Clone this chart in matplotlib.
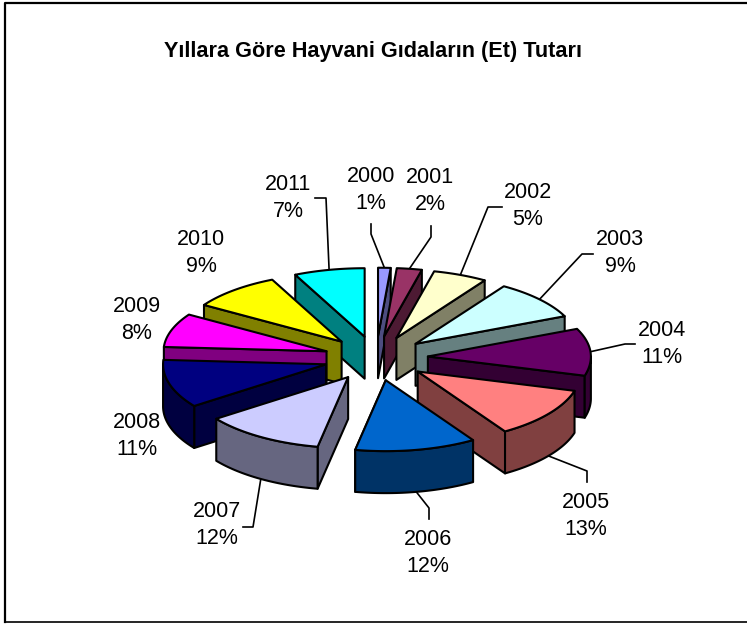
import numpy as np
import matplotlib
matplotlib.use("Agg")
import matplotlib.pyplot as plt
from matplotlib.patches import Polygon

plt.rcParams["font.family"] = ["Liberation Sans", "DejaVu Sans"]

# ── Data ──────────────────────────────────────────────────────────────────────
TITLE  = "Yıllara Göre Hayvani Gıdaların (Et) Tutarı"
years  = ["2000", "2001", "2002", "2003", "2004", "2005",
          "2006", "2007", "2008", "2009", "2010", "2011"]
shares = [1, 2, 5, 9, 11, 13, 12, 12, 11, 8, 9, 7]
colors = ["#9999FF", "#993366", "#FFFFCC", "#CCFFFF", "#660066", "#FF8080",
          "#0066CC", "#CCCCFF", "#000080", "#FF00FF", "#FFFF00", "#00FFFF"]

# ── Layout (pixels) ───────────────────────────────────────────────────────────
CX, CY   = 376, 358
RADIUS   = 163
TILT_BACK, TILT_FRONT = 0.42, 0.435
EXPLODE  = 52
DEPTH    = 42
label_xy = [(371, 190), (430, 191), (528, 206), (620, 253), (662, 344), (586, 516),
            (428, 553), (217, 525), (137, 436), (137, 320), (201, 253), (288, 198)]
# leader points after the slice edge, None = no leader
leaders  = [[(371, 234), (371, 224)], [(431, 237), (431, 226)], [(488, 207), (502, 207)],
            [(582, 254), (593, 254)], [(625, 344), (635, 344)], [(587, 471), (587, 482)],
            [(429, 508), (429, 519)], [(253, 527), (243, 527)], None, None, None,
            [(326, 198), (315, 198)]]
# the original's perspective pushes the back right slices clockwise (degrees)
WARP_AT  = [0, 10.8, 28.8, 61.2, 100.8, 147.6, 360]
WARP_BY  = [0, 2.6, 4, 5, 5, 0, 0]


def shade(col):
    r, g, b = matplotlib.colors.to_rgb(col)
    return (r * 0.5, g * 0.5, b * 0.5)


def warp(ang):
    return ang + np.radians(np.interp(np.degrees(ang), WARP_AT, WARP_BY))


def project(mid, ang, rad=RADIUS):
    # plan position of a rim point on an exploded slice, then onto the screen
    wx = EXPLODE * np.sin(mid) + rad * np.sin(ang)
    wy = EXPLODE * np.cos(mid) + rad * np.cos(ang)
    return CX + wx, CY - wy * np.where(wy > 0, TILT_BACK, TILT_FRONT)


fig = plt.figure(figsize=(7.47, 6.24), dpi=100)
ax = fig.add_axes([0, 0, 1, 1])
ax.set_xlim(0, 747)
ax.set_ylim(624, 0)
ax.axis("off")

ax.plot([5, 5, 747], [622, 3, 3], color="black", lw=1.6)
ax.plot([5, 747], [622, 622], color="black", lw=1.2)

ax.text(373.5, 51, TITLE, ha="center", va="center", fontsize=15.6, fontweight="bold")

edges = np.radians(np.cumsum([0] + shares) * 3.6)
mids  = warp((edges[:-1] + edges[1:]) / 2)
edges = warp(edges)
order = np.argsort(-np.cos(mids))

for z, i in enumerate(order):
    a, b = edges[i], edges[i + 1]
    px, py = project(mids[i], 0.0, 0.0)
    xs, ys = project(mids[i], np.linspace(a, b, 40))
    wall = shade(colors[i])
    style = dict(fc=wall, ec="black", lw=1.5, joinstyle="round", zorder=3 + z)

    # radial walls, only the one facing the viewer
    edge_t = a if np.sin((a + b) / 2) < 0 else b
    ex, ey = project(mids[i], edge_t)
    ax.add_patch(Polygon([(px, py), (ex, ey), (ex, ey + DEPTH), (px, py + DEPTH)], **style))

    # outer rim for the front half
    lo, hi = max(a, np.pi / 2), min(b, 3 * np.pi / 2)
    if hi > lo:
        rx, ry = project(mids[i], np.linspace(lo, hi, 40))
        rim = list(zip(rx, ry)) + list(zip(rx[::-1], ry[::-1] + DEPTH))
        ax.add_patch(Polygon(rim, **style))

    top = [(px, py)] + list(zip(xs, ys))
    ax.add_patch(Polygon(top, fc=colors[i], ec="black", lw=1.5, joinstyle="round", zorder=3 + z))

for i, year in enumerate(years):
    lx, ly = label_xy[i]
    ax.text(lx, ly, f"{year}\n{shares[i]}%", ha="center", va="center",
            fontsize=15.5, linespacing=1.42, zorder=40)
    if leaders[i] is not None:
        sx, sy = project(mids[i], mids[i])
        if np.cos(mids[i]) < 0:
            sy = sy + DEPTH
        pts = [(sx, sy)] + leaders[i]
        ax.plot(*zip(*pts), color="black", lw=1.2, zorder=2)

fig.savefig("out.png", dpi=100)
